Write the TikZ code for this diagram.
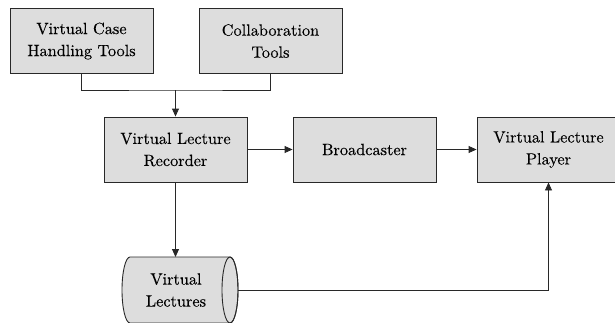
\documentclass[tikz,border=0pt]{standalone}
\usepackage{fontspec}
\newfontfamily\labelfont{lmroman10-regular.otf}[FakeBold=0.2]
\usetikzlibrary{arrows.meta}
\definecolor{boxgray}{RGB}{221,221,221}
\definecolor{edgegray}{RGB}{40,40,40}
\tikzset{
  label text/.style={align=center, font=\labelfont\fontsize{16.3}{22}\selectfont},
  block/.style={label text, draw=edgegray, line width=0.9pt, fill=boxgray,
    minimum width=143pt, minimum height=65pt, inner sep=0pt},
  link/.style={draw=edgegray, line width=0.9pt},
  arr/.style={link, -{Triangle[length=8pt,width=7pt]}},
}
\begin{document}
\begin{tikzpicture}[x=1pt, y=-1pt]
\useasboundingbox (0,0) rectangle (615,322);

% tool boxes
\node[block] (vcht)   at (81.5,41)    {Virtual Case\\Handling Tools};
\node[block] (collab) at (270.5,41)   {Collaboration\\Tools};

% main chain
\node[block] (rec)    at (175.5,149.5) {Virtual Lecture\\Recorder};
\node[block] (bcast)  at (364.5,149.5) {Broadcaster};
\node[block] (player) at (548.5,149.5) {Virtual Lecture\\Player};

% storage cylinder
\filldraw[link, fill=boxgray]
  (130,257) -- (230,257) arc(-90:90:8 and 33) -- (130,323)
  arc(90:270:8 and 33) -- cycle;
\draw[link] (230,290) ellipse (8 and 33);
\node[label text] (lect) at (176,290) {Virtual\\Lectures};
\coordinate (lectTop) at (175.5,257);
\coordinate (lectEast) at (238,290);

% connectors
\coordinate (join) at (175.5,90);
\draw[link] (vcht.south) |- (join) -| (collab.south);
\draw[arr] (join) -- (rec.north);
\draw[arr] (rec.east) -- (bcast.west);
\draw[arr] (bcast.east) -- (player.west);
\draw[arr] (rec.south) -- (lectTop);
\draw[arr] (lectEast) -| (player.south);
\end{tikzpicture}
\end{document}
